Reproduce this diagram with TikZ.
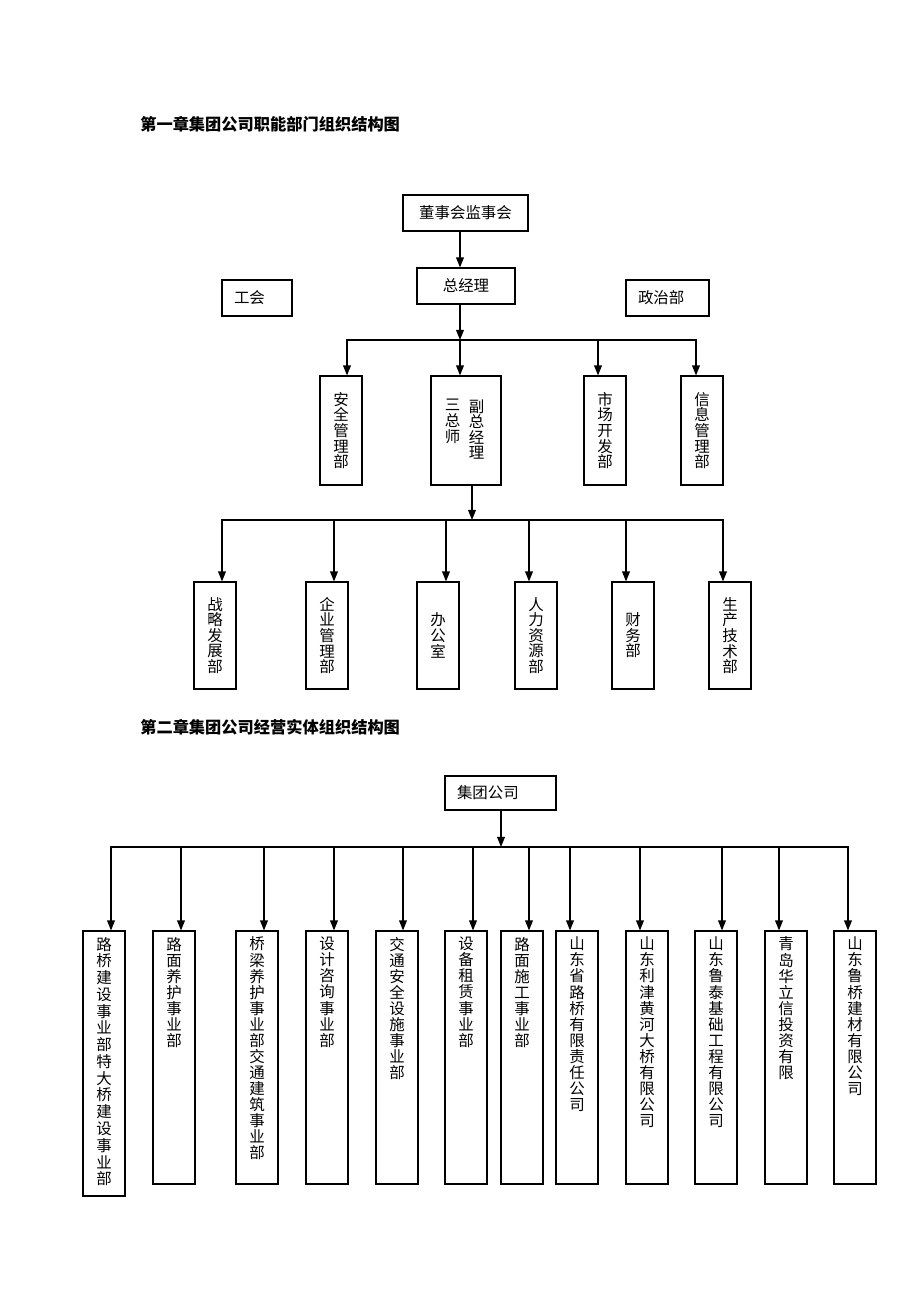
\documentclass[tikz,border=0pt]{standalone}
\usepackage{fontspec}
\newfontfamily\cjk{Noto Sans CJK SC}
\XeTeXlinebreaklocale "zh"
\XeTeXlinebreakskip=0pt plus 1pt
\lineskiplimit=-20pt
\usetikzlibrary{arrows.meta, positioning}
\newlength\upx
\setlength\upx{0.647pt}
\tikzset{
	unitbox/.style={draw=black, line width=0.7pt, inner sep=0pt, font=\cjk\fontsize{10}{10.1}\selectfont},
	hunit/.style={unitbox, minimum height=36\upx},
	lpad/.style={align=left, inner xsep=12\upx},
	vunit/.style={unitbox, text width=10.5pt, align=center, minimum width=42\upx},
	ventity/.style={unitbox, minimum width=42\upx},
	vcol/.style={inner sep=0pt, text width=10.5pt, align=center, font=\cjk\fontsize{10}{10.1}\selectfont},
	chaptitle/.style={inner sep=0pt, anchor=west, font=\cjk\bfseries\fontsize{10.5}{12}\selectfont},
	arr/.style={-{Triangle[length=6.5pt, width=5pt]}, line width=0.9pt},
	busline/.style={line width=0.9pt, line cap=rect},
}
\begin{document}
\begin{tikzpicture}[x=\upx, y=-\upx]
\useasboundingbox (0,0) rectangle (920,1302);
% 第一章
\node[chaptitle] (t1) at (140,124) {第一章集团公司职能部门组织结构图};
\node[hunit, minimum width=125\upx] (dsh) at (465.5,213) {董事会监事会};
\node[hunit, minimum width=98\upx] (zjl) at (466,286) {总经理};
\node[hunit, lpad, text width=46\upx] (gh) at (257,298) {工会};
\node[hunit, lpad, text width=59\upx] (zzb) at (667.5,298) {政治部};
\coordinate (j1) at (460,340);
\draw[arr] (dsh.south -| j1) -- (zjl.north -| j1);
\draw[arr] (zjl.south -| j1) -- (j1);
\node[vunit, minimum height=109\upx] (aq) at (341,430.5) {安全管理部};
\node[unitbox, minimum width=70\upx, minimum height=109\upx] (fz) at (466,430.5) {};
\node[vcol, anchor=north] (fz1) at (476.5,399) {副总经理};
\node[vcol, anchor=north] (fz2) at (452.5,399) {三总师};
\node[vunit, minimum height=109\upx] (sc) at (605,430.5) {市场开发部};
\node[vunit, minimum height=109\upx] (xx) at (702,430.5) {信息管理部};
\foreach \n/\d in {aq/347, fz/460, sc/598, xx/696} {
	\coordinate (d\n) at (\d,340);
	\draw[arr] (d\n) -- (d\n |- \n.north);
}
\draw[busline] (daq) -- (dxx);
% 副总经理下属
\coordinate (j2) at (472,520);
\draw[arr] (fz.south -| j2) -- (j2);
\foreach \n/\x/\d/\t in {r1/215/222/战略发展部, r2/327/334/企业管理部, r3/438/446/办公室,
		r4/536/529/人力资源部, r5/633/626/财务部, r6/730/723/生产技术部} {
	\node[vunit, minimum height=107\upx] (\n) at (\x,635.5) {\t};
	\coordinate (d\n) at (\d,520);
	\draw[arr] (d\n) -- (d\n |- \n.north);
}
\draw[busline] (dr1) -- (dr6);
% 第二章
\node[chaptitle] (t2) at (140,727) {第二章集团公司经营实体组织结构图};
\node[hunit, lpad, text width=87\upx, minimum height=34\upx] (jt) at (500.5,793) {集团公司};
\coordinate (j3) at (501,847);
\draw[arr] (jt.south -| j3) -- (j3);
\foreach \n/\x/\d/\h/\s/\t in {u1/104/111/265/10.85/路桥建设事业部特大桥建设事业部, u2/174/181/253/10.4/路面养护事业部,
		u3/257/264/253/10.4/桥梁养护事业部交通建筑事业部, u4/327/334/253/10.4/设计咨询事业部,
		u5/397/403/253/10.4/交通安全设施事业部, u6/466/473/253/10.4/设备租赁事业部,
		u7/522/529/253/10.4/路面施工事业部, u8/577/570/253/10.4/山东省路桥有限责任公司,
		u9/647/640/253/10.4/山东利津黄河大桥有限公司, u10/716/722/253/10.4/山东鲁泰基础工程有限公司,
		u11/786/779/253/10.4/青岛华立信投资有限, u12/855/848/253/10.4/山东鲁桥建材有限公司} {
	\node[ventity, minimum height=\h\upx, font=\cjk\fontsize{10}{\s}\selectfont] (\n) at (\x,{931+\h/2})
		{\parbox[t][\dimexpr\h\upx-12\upx\relax][t]{10.5pt}{\centering \t}};
	\coordinate (d\n) at (\d,847);
	\draw[arr] (d\n) -- (d\n |- \n.north);
}
\draw[busline] (du1) -- (du12);
\end{tikzpicture}
\end{document}
